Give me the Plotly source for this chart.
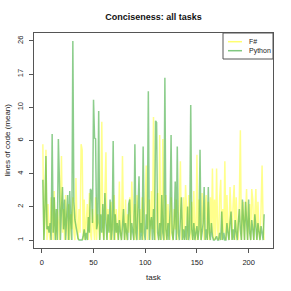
import numpy as np
import plotly.graph_objects as go

title_text = "Conciseness: all tasks"
x_label = "task"
y_label = "lines of code (mean)"
series_names = ["F#", "Python"]
y_tick_labels = ["1", "2", "4", "6", "10", "17", "26"]
x_tick_values = [0, 50, 100, 150, 200]

fsharp = [
    6.0, 1.0, 1.5, 5.5, 1.0, 2.2, 1.2, 1.0, 2.5, 1.3,
    1.0, 2.8, 1.2, 1.0, 2.0, 1.5, 1.0, 2.3, 5.0, 1.2,
    2.0, 1.0, 2.6, 1.4, 1.0, 2.2, 1.0, 1.8, 1.3, 2.5,
    1.2, 1.0, 3.5, 1.5, 1.0, 2.0, 1.2, 6.0, 5.5, 1.0,
    2.4, 1.0, 1.6, 2.2, 1.0, 2.7, 1.2, 1.0, 2.0, 1.4,
    1.0, 2.5, 1.0, 1.8, 1.3, 1.0, 2.2, 8.4, 1.2, 1.0,
    2.6, 5.3, 1.0, 2.0, 1.5, 1.0, 2.3, 1.0, 1.4, 2.6,
    1.0, 2.0, 1.2, 1.0, 3.3, 1.3, 1.0, 5.0, 1.5, 1.0,
    2.4, 1.0, 1.8, 1.2, 2.5, 1.0, 3.3, 1.4, 1.0, 2.2,
    1.0, 2.6, 1.3, 1.0, 2.0, 1.2, 2.5, 1.0, 1.6, 2.3,
    4.3, 1.0, 1.5, 2.4, 1.0, 2.8, 1.3, 9.0, 1.2, 1.0,
    2.0, 2.7, 1.0, 6.9, 1.4, 1.0, 6.5, 1.2, 1.0, 2.6,
    1.0, 2.2, 1.5, 1.0, 2.5, 1.2, 1.0, 2.0, 1.3, 2.4,
    1.0, 1.6, 2.2, 4.6, 1.0, 1.3, 2.5, 1.0, 3.1, 2.0,
    1.0, 2.6, 1.4, 1.0, 2.3, 1.0, 2.8, 1.2, 1.0, 5.1,
    1.0, 2.4, 1.3, 1.0, 2.7, 1.5, 1.0, 2.2, 2.6, 1.0,
    2.3, 1.0, 2.5, 1.2, 4.1, 1.0, 2.4, 1.0, 4.1, 1.3,
    1.0, 2.5, 3.4, 1.0, 2.0, 1.2, 4.6, 1.0, 2.6, 1.3,
    1.0, 3.0, 1.4, 1.0, 2.2, 3.1, 1.0, 2.5, 1.2, 1.0,
    2.4, 7.4, 1.0, 1.6, 2.3, 1.0, 2.0, 2.9, 1.0, 1.5,
    2.2, 1.0, 2.9, 2.4, 1.0, 1.8, 2.9, 1.0, 2.3, 1.2,
    1.0, 2.0, 4.3, 1.5, 1.0,
]

python = [
    3.4, 1.0, 2.0, 5.0, 1.3, 1.4, 1.2, 1.5, 1.0, 7.0,
    1.2, 2.5, 1.0, 2.0, 1.0, 6.5, 3.4, 1.0, 2.0, 3.0,
    1.3, 2.4, 1.0, 1.8, 2.6, 1.0, 2.8, 1.5, 1.0, 26.0,
    2.3, 1.6, 1.4, 1.1, 1.05, 1.0, 1.0, 1.0, 1.0, 1.1,
    1.3, 1.0, 1.2, 1.0, 1.7, 1.2, 2.9, 2.8, 1.5, 11.5,
    6.6, 6.5, 1.3, 1.5, 9.8, 1.0, 1.8, 1.2, 2.2, 1.0,
    2.7, 1.5, 1.0, 1.8, 1.2, 2.4, 1.0, 1.3, 6.3, 1.0,
    1.8, 1.2, 1.5, 1.0, 1.6, 1.2, 1.0, 1.4, 2.0, 1.0,
    1.5, 1.2, 1.0, 2.2, 2.4, 1.0, 1.5, 1.2, 1.0, 6.0,
    1.2, 1.0, 2.0, 3.6, 1.0, 1.5, 1.0, 5.8, 1.2, 1.0,
    1.8, 1.3, 13.0, 1.0, 1.5, 1.7, 1.0, 2.0, 1.0, 8.5,
    8.3, 1.2, 1.0, 1.5, 1.0, 2.6, 1.2, 1.0, 15.7, 1.3,
    1.0, 1.5, 1.0, 2.0, 6.9, 1.2, 1.0, 1.5, 3.3, 1.0,
    5.8, 1.2, 1.0, 1.5, 2.5, 1.0, 1.3, 1.0, 1.4, 1.0,
    2.1, 1.0, 1.2, 10.7, 1.3, 1.0, 1.5, 1.0, 1.2, 1.4,
    1.0, 1.3, 5.5, 1.0, 1.2, 1.5, 3.0, 1.0, 1.3, 1.0,
    3.0, 1.2, 1.0, 1.5, 1.1, 1.0, 1.0, 1.05, 1.1, 1.0,
    1.0, 1.2, 1.0, 1.9, 1.0, 1.2, 1.0, 1.0, 1.5, 1.2,
    1.0, 1.5, 1.9, 1.0, 1.3, 1.0, 1.6, 1.2, 1.0, 1.5,
    2.0, 1.3, 1.0, 2.4, 1.5, 1.0, 2.3, 1.4, 1.0, 2.4,
    1.2, 1.0, 1.6, 1.3, 1.0, 1.8, 1.2, 1.0, 1.5, 1.3,
    1.0, 1.4, 1.2, 1.0, 1.8,
]

tasks = list(range(1, len(fsharp) + 1))

colors = ["rgba(255,255,0,0.45)", "rgba(70,175,70,0.62)"]
legend_colors = ["#ffff70", "#80c880"]

# y axis is log(value + 1); ticks evenly spaced in that space
fs_t = np.log1p(np.array(fsharp))
py_t = np.log1p(np.array(python))
lo = np.log1p(float(y_tick_labels[0]))
hi = np.log1p(float(y_tick_labels[-1]))
tickvals_y = np.linspace(lo, hi, len(y_tick_labels))
pad_y = 0.04 * (hi - lo)
xmin, xmax = min(tasks), max(tasks)
pad_x = 0.04 * (xmax - xmin)

fig = go.Figure()
fig.add_trace(go.Scatter(x=tasks, y=fs_t, mode="lines", name=series_names[0],
                         line=dict(color=colors[0], width=1.5), showlegend=False))
fig.add_trace(go.Scatter(x=tasks, y=py_t, mode="lines", name=series_names[1],
                         line=dict(color=colors[1], width=1.5), showlegend=False))

font_family = "Liberation Sans, Arial, sans-serif"
axis_col = "#555555"
txt_col = "#222222"

L, R, T, B = 34, 18, 33, 43
W = H = 291
pw, ph = W - L - R, H - T - B

fig.update_layout(
    width=W, height=H,
    margin=dict(l=L, r=R, t=T, b=B, autoexpand=False),
    paper_bgcolor="white", plot_bgcolor="white",
    font=dict(family=font_family, size=7.5, color=txt_col),
    title=dict(text="<b>" + title_text + "</b>", x=0.5, xref="paper",
               y=1 - 17 / H, yref="container", xanchor="center", yanchor="middle",
               font=dict(size=9, color="#111111")),
    showlegend=False,
    hovermode=False,
)
fig.update_xaxes(range=[xmin - pad_x, xmax + pad_x], tickvals=x_tick_values,
                 automargin=False,
                 showgrid=False, zeroline=False, showline=True, mirror=True,
                 linecolor=axis_col, linewidth=1, ticks="outside", ticklen=4,
                 tickcolor=axis_col, tickfont=dict(size=7.5), ticklabelstandoff=3)
fig.update_yaxes(range=[lo - pad_y, hi + pad_y], tickvals=tickvals_y,
                 ticktext=y_tick_labels, tickangle=-90, automargin=False,
                 showgrid=False, zeroline=False, showline=True, mirror=True,
                 linecolor=axis_col, linewidth=1, ticks="outside", ticklen=4,
                 tickcolor=axis_col, tickfont=dict(size=7.5), ticklabelstandoff=3)

# axis titles
fig.add_annotation(text=x_label, xref="paper", yref="paper", x=0.5, y=-(277.7 - (H - B)) / ph,
                   xanchor="center", yanchor="middle", showarrow=False,
                   font=dict(size=8, color=txt_col))
fig.add_annotation(text=y_label, xref="paper", yref="paper", x=(7 - L) / pw, y=0.5,
                   xanchor="center", yanchor="middle", textangle=-90, showarrow=False,
                   font=dict(size=8, color=txt_col))

# legend box (top right)
fig.add_shape(type="rect", xref="paper", yref="paper",
              x0=(223 - L) / pw, x1=1.0, y0=(H - B - 59) / ph, y1=1.0,
              line=dict(color=axis_col, width=1), fillcolor="white")
for i, name in enumerate(series_names):
    yy = (H - B - (41.7 + 9 * i)) / ph
    fig.add_shape(type="line", xref="paper", yref="paper",
                  x0=(228 - L) / pw, x1=(242 - L) / pw, y0=yy, y1=yy,
                  line=dict(color=legend_colors[i], width=1.5))
    fig.add_annotation(text=name, xref="paper", yref="paper", x=(247 - L) / pw, y=yy,
                       xanchor="left", yanchor="middle", showarrow=False,
                       font=dict(size=7, color=txt_col))

fig.write_html("out.html", config={"displayModeBar": False},
               post_script="document.body.style.margin='0';document.body.style.overflow='hidden';")
